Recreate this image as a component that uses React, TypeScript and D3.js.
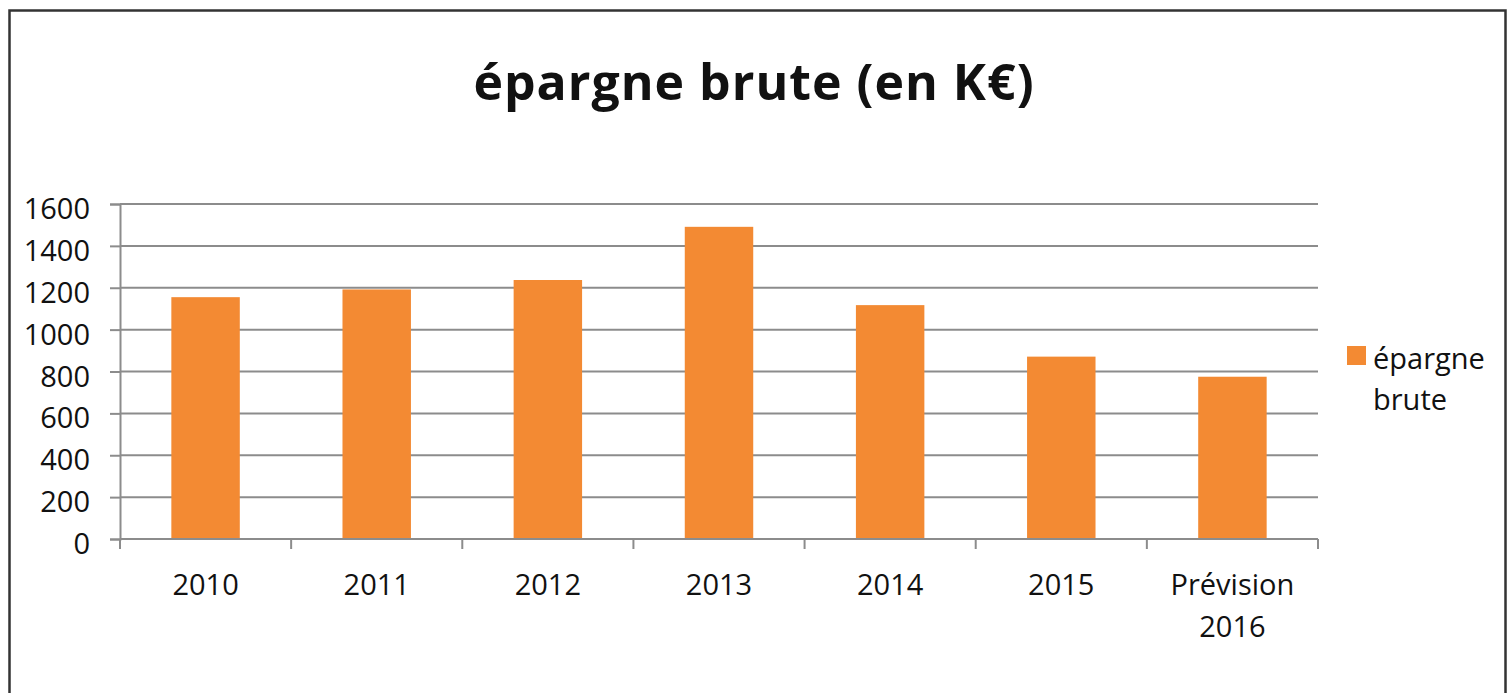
import React, { useEffect, useRef } from 'react';
import * as d3 from 'd3';

// épargne brute, in K€
const categories = ['2010', '2011', '2012', '2013', '2014', '2015', 'Prévision 2016'];
const values = [1155, 1192, 1237, 1491, 1117, 871, 775];
const yTicks = [0, 200, 400, 600, 800, 1000, 1200, 1400, 1600];
const seriesName = 'épargne brute';

const W = 1512, H = 693;
const FONT = '"Open Sans", "Liberation Sans", sans-serif';

const App = () => {
  const svgRef = useRef<SVGSVGElement>(null);

  useEffect(() => {
    const svg = d3.select(svgRef.current);
    svg.selectAll('*').remove();

    const margin = { top: 204, right: 194, bottom: 154, left: 120 };

    const x = d3.scaleBand()
      .domain(categories)
      .range([margin.left, W - margin.right])
      .paddingInner(0.6)
      .paddingOuter(0.3);

    const y = d3.scaleLinear()
      .domain([0, 1600])
      .range([H - margin.bottom, margin.top]);

    // outer frame
    svg.append('rect')
      .attr('x', 9.5).attr('y', 10.5)
      .attr('width', 1496).attr('height', 700)
      .attr('fill', '#fff')
      .attr('stroke', '#333').attr('stroke-width', 2.5);

    // title
    svg.append('text')
      .attr('x', 754).attr('y', 100)
      .attr('text-anchor', 'middle')
      .attr('font-family', FONT)
      .attr('font-weight', 700)
      .attr('font-size', 50)
      .attr('letter-spacing', 1)
      .attr('fill', '#111')
      .text('épargne brute (en K€)');

    // gridlines
    svg.append('g')
      .selectAll('line')
      .data(yTicks.filter(d => d > 0))
      .enter().append('line')
      .attr('x1', margin.left).attr('x2', W - margin.right)
      .attr('y1', d => y(d)).attr('y2', d => y(d))
      .attr('stroke', '#8c8c8c').attr('stroke-width', 2);

    // y axis
    const yAxis = svg.append('g')
      .attr('transform', `translate(${margin.left},0)`)
      .call(d3.axisLeft(y).tickValues(yTicks).tickFormat(d3.format('d')).tickSize(10).tickPadding(20));
    yAxis.select('.domain').attr('stroke', '#8c8c8c').attr('stroke-width', 2);
    yAxis.selectAll('.tick line').attr('stroke', '#8c8c8c').attr('stroke-width', 2);
    yAxis.selectAll('.tick text')
      .attr('font-family', FONT).attr('font-size', 29).attr('fill', '#111')
      .attr('dy', '0.5em');

    // bars
    svg.append('g')
      .selectAll('rect')
      .data(values)
      .enter().append('rect')
      .attr('x', (d, i) => x(categories[i]))
      .attr('y', d => y(d))
      .attr('width', x.bandwidth())
      .attr('height', d => y(0) - y(d))
      .attr('fill', '#f38a33');

    // x axis: ticks at category boundaries
    const step = x.step();
    const bounds = d3.range(categories.length + 1).map(i => margin.left + i * step);
    const xAxisG = svg.append('g');
    xAxisG.append('line')
      .attr('x1', margin.left).attr('x2', W - margin.right)
      .attr('y1', y(0)).attr('y2', y(0))
      .attr('stroke', '#8c8c8c').attr('stroke-width', 2);
    xAxisG.selectAll('line.tk')
      .data(bounds)
      .enter().append('line')
      .attr('class', 'tk')
      .attr('x1', d => d).attr('x2', d => d)
      .attr('y1', y(0)).attr('y2', y(0) + 10)
      .attr('stroke', '#8c8c8c').attr('stroke-width', 2);

    const labels = xAxisG.selectAll('text')
      .data(categories)
      .enter().append('text')
      .attr('x', d => x(d) + x.bandwidth() / 2)
      .attr('y', y(0) + 56)
      .attr('text-anchor', 'middle')
      .attr('font-family', FONT).attr('font-size', 29).attr('fill', '#111');
    labels.each(function (d) {
      const parts = d.split(' ');
      const t = d3.select(this);
      parts.forEach((p, i) => {
        t.append('tspan')
          .attr('x', x(d) + x.bandwidth() / 2)
          .attr('dy', i === 0 ? 0 : 42)
          .text(p);
      });
    });

    // legend
    const legend = svg.append('g');
    legend.append('rect')
      .attr('x', 1347).attr('y', 346)
      .attr('width', 19).attr('height', 19)
      .attr('fill', '#f38a33');
    const lt = legend.append('text')
      .attr('font-family', FONT).attr('font-size', 29).attr('fill', '#111');
    seriesName.split(' ').forEach((p, i) => {
      lt.append('tspan')
        .attr('x', 1373)
        .attr('y', 369 + i * 41)
        .text(p);
    });
  }, []);

  return (
    <div style={{ position: 'absolute', left: 0, top: 0 }}>
      <svg ref={svgRef} width={W} height={H} style={{ display: 'block' }}></svg>
    </div>
  );
};

export default App;
